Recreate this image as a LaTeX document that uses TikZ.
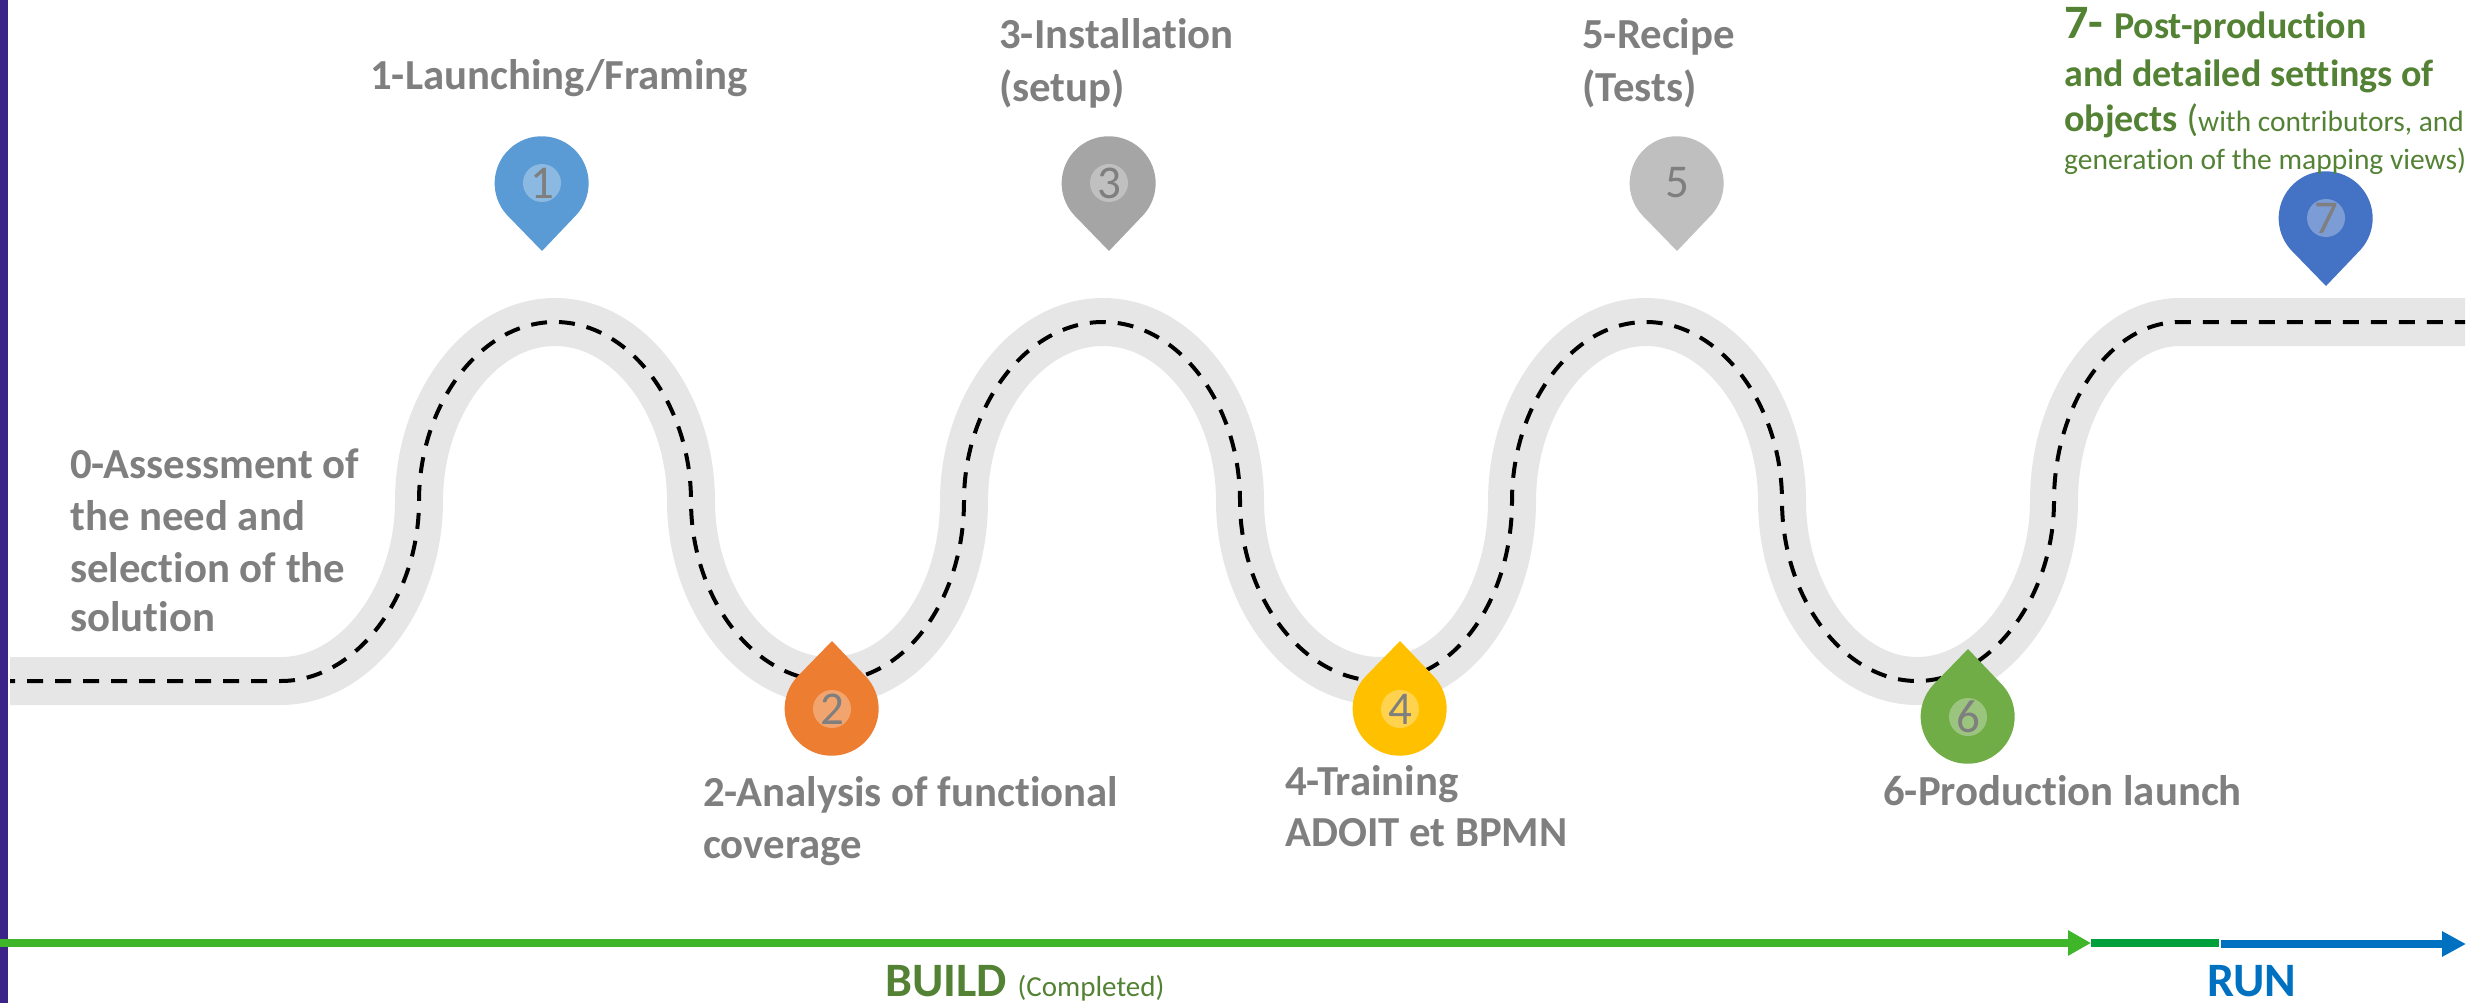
\documentclass[tikz,border=0pt]{standalone}
\usetikzlibrary{arrows.meta}
\usepackage{fontspec}
\setmainfont[Ligatures=NoCommon]{Carlito}
\definecolor{txtgray}{HTML}{7F7F7F}
\definecolor{txtgreen}{HTML}{548235}
\definecolor{roadgray}{HTML}{E6E6E6}
\definecolor{barpurple}{HTML}{3C2387}
\definecolor{buildgreen}{HTML}{3FB52A}
\definecolor{midgreen}{HTML}{00A03C}
\definecolor{runblue}{HTML}{0070C0}
\definecolor{pinA}{HTML}{5B9BD5}
\definecolor{pinB}{HTML}{ED7D31}
\definecolor{pinC}{HTML}{A5A5A5}
\definecolor{pinD}{HTML}{FFC000}
\definecolor{pinE}{HTML}{BFBFBF}
\definecolor{pinF}{HTML}{70AD47}
\definecolor{pinG}{HTML}{4472C4}
\newcommand{\fs}[1]{\fontsize{#1}{#1}\selectfont}
\newcommand{\pinmark}[7]{%
  \begin{scope}[shift={(#2,#3)},yscale=#4]
    \fill[#5] (-35,32) arc[start angle=137.5,end angle=402.5,radius=47] -- (0,68) -- cycle;
    \fill[white,opacity=#7] (0,0) circle[radius=19];
  \end{scope}
  \node[pinnum] (#1) at (#2,#3) {#6};
}
\tikzset{
  x=1pt,y=-1pt,
  graylabel/.style={anchor=base west,inner sep=0pt,text=txtgray,font=\fs{42.8}\bfseries},
  greenlabel/.style={anchor=base west,inner sep=0pt,text=txtgreen},
  pinnum/.style={inner sep=0pt,text=txtgray,font=\fs{47}},
  roadpath/.style={line cap=butt},
  timeline/.style={line width=8pt,line cap=butt},
}
\begin{document}
\begin{tikzpicture}
\useasboundingbox (0,0) rectangle (2478,1003);
\def\roadcurve{(10,681) -- (281,681)
 .. controls (356,681) and (419,597) .. (419,501)
 .. controls (419,405) and (480,322) .. (555,322)
 .. controls (630,322) and (691,405) .. (691,501)
 .. controls (691,597) and (753,681) .. (830,681)
 .. controls (907,681) and (964,597) .. (964,501)
 .. controls (964,405) and (1027,322) .. (1103,322)
 .. controls (1179,322) and (1240,405) .. (1240,501)
 .. controls (1240,597) and (1303,681) .. (1380,681)
 .. controls (1457,681) and (1512,597) .. (1512,501)
 .. controls (1512,405) and (1572,322) .. (1646,322)
 .. controls (1720,322) and (1782,405) .. (1782,501)
 .. controls (1782,597) and (1843,681) .. (1917,681)
 .. controls (1991,681) and (2054,597) .. (2054,501)
 .. controls (2054,405) and (2110,322) .. (2180,322)
 -- (2465,322)}
\fill[barpurple] (0,0) rectangle (8,1003);
\draw[roadgray,line width=48pt,roadpath] \roadcurve;
\draw[black,line width=4pt,dash pattern=on 16pt off 12pt,dash phase=11pt,roadpath] \roadcurve;
\coordinate (b0) at (0,943);
\coordinate (b1) at (2091,943);
\coordinate (g1) at (2219,943);
\coordinate (r0) at (2221,944);
\coordinate (r1) at (2466,944);
\draw[midgreen,timeline] (b1) -- (g1);
\draw[buildgreen,timeline,-{Triangle[length=23pt,width=24pt]}] (b0) -- (b1);
\draw[runblue,timeline,-{Triangle[length=24pt,width=24pt]}] (r0) -- (r1);
\pinmark{p1}{542}{183}{1}{pinA}{1}{0.3}
\pinmark{p2}{832}{709}{-1}{pinB}{2}{0.3}
\pinmark{p3}{1109}{183}{1}{pinC}{3}{0.3}
\pinmark{p4}{1400}{709}{-1}{pinD}{4}{0.3}
\pinmark{p5}{1677}{183}{1}{pinE}{5}{0}
\pinmark{p6}{1968}{717}{-1}{pinF}{6}{0.3}
\pinmark{p7}{2326}{218}{1}{pinG}{7}{0.3}
\node[graylabel] (t0a) at (70,478) {0-Assessment of};
\node[graylabel] (t0b) at (70,530) {the need and};
\node[graylabel] (t0c) at (70,582) {selection of the};
\node[graylabel] (t0d) at (70,631) {solution};
\node[graylabel] (t1) at (370,90) {1-Launching/Framing};
\node[graylabel] (t3a) at (999,49) {3-Installation};
\node[graylabel] (t3b) at (999,102) {(setup)};
\node[graylabel] (t5a) at (1582,49) {5-Recipe};
\node[graylabel] (t5b) at (1582,102) {(Tests)};
\node[graylabel] (t2a) at (703,806) {2-Analysis of functional};
\node[graylabel] (t2b) at (703,858) {coverage};
\node[graylabel] (t4a) at (1285,795) {4-Training};
\node[graylabel] (t4b) at (1285,846) {ADOIT et BPMN};
\node[graylabel] (t6) at (1883,805) {6-Production launch};
\node[greenlabel] (t7a) at (2064,39) {\fs{48}\bfseries 7- \fs{38}Post-production};
\node[greenlabel] (t7b) at (2064,87) {\fs{38}\bfseries and detailed settings of};
\node[greenlabel] (t7c) at (2064,132) {\fs{38}\bfseries objects \mdseries\fs{38}(\fs{29.4}with contributors, and};
\node[greenlabel] (t7d) at (2064,170) {\fs{29.5}generation of the mapping views)};
\node[greenlabel,text depth=0pt] (tb) at (885,996) {\fs{48}\bfseries BUILD \mdseries\fs{29}(Completed)};
\node[anchor=base west,inner sep=0pt,text depth=0pt,text=runblue,font=\fs{48}\bfseries] (tr) at (2207,996) {RUN};
\end{tikzpicture}
\end{document}
